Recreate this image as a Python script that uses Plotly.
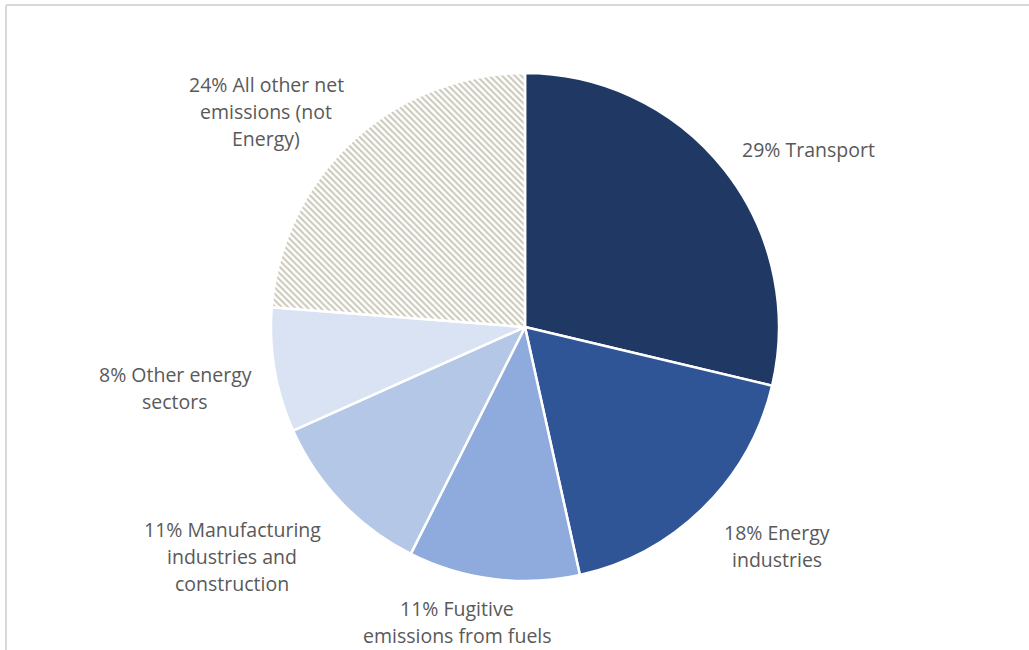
import plotly.graph_objects as go

# Share of net emissions by sector (%)
sectors = [
    "Transport",
    "Energy industries",
    "Fugitive emissions from fuels",
    "Manufacturing industries and construction",
    "Other energy sectors",
    "All other net emissions (not Energy)",
]
shares = [29, 18, 11, 11, 8, 24]
label_lines = [
    ["29% Transport"],
    ["18% Energy", "industries"],
    ["11% Fugitive", "emissions from fuels"],
    ["11% Manufacturing", "industries and", "construction"],
    ["8% Other energy", "sectors"],
    ["24% All other net", "emissions (not", "Energy)"],
]

colors = ["#203864", "#2F5597", "#8FAADC", "#B4C7E7", "#DAE3F3", "#FFFFFF"]
shapes_pat = ["", "", "", "", "", "\\"]

W, H = 1029, 650
cx, cy, r = 525, 327, 254

fig = go.Figure(
    go.Pie(
        labels=sectors,
        values=shares,
        sort=False,
        direction="clockwise",
        rotation=0,
        textinfo="none",
        hoverinfo="label+percent",
        marker=dict(
            colors=colors,
            line=dict(color="#FFFFFF", width=2.5),
            pattern=dict(
                shape=shapes_pat,
                fgcolor="#CBC8B9",
                bgcolor="#FFFFFF",
                size=4.5,
                solidity=0.45,
            ),
        ),
        domain=dict(
            x=[(cx - r) / W, (cx + r) / W],
            y=[1 - (cy + r) / H, 1 - (cy - r) / H],
        ),
        showlegend=False,
    )
)

# label anchor points (pixel centre of first line)
label_pos = [
    (808, 149),
    (777, 532),
    (457, 608),
    (232, 529),
    (175, 374),
    (266, 84),
]
line_h = 27
for lines, (x, y) in zip(label_lines, label_pos):
    for i, t in enumerate(lines):
        fig.add_annotation(
            x=x / W,
            y=1 - (y + i * line_h) / H,
            xref="paper",
            yref="paper",
            text=t,
            showarrow=False,
            xanchor="center",
            yanchor="middle",
            font=dict(family="Open Sans", size=19.5, color="#595959"),
        )

# chart frame
fig.add_shape(type="line", xref="paper", yref="paper",
              x0=6 / W, x1=1.0, y0=1 - 5 / H, y1=1 - 5 / H,
              line=dict(color="#D9D9D9", width=2))
fig.add_shape(type="line", xref="paper", yref="paper",
              x0=6 / W, x1=6 / W, y0=0, y1=1 - 5 / H,
              line=dict(color="#D9D9D9", width=2))

fig.update_layout(
    width=W,
    height=H,
    margin=dict(l=0, r=0, t=0, b=0),
    paper_bgcolor="#FFFFFF",
    plot_bgcolor="#FFFFFF",
)

fig.write_html("out.html")
